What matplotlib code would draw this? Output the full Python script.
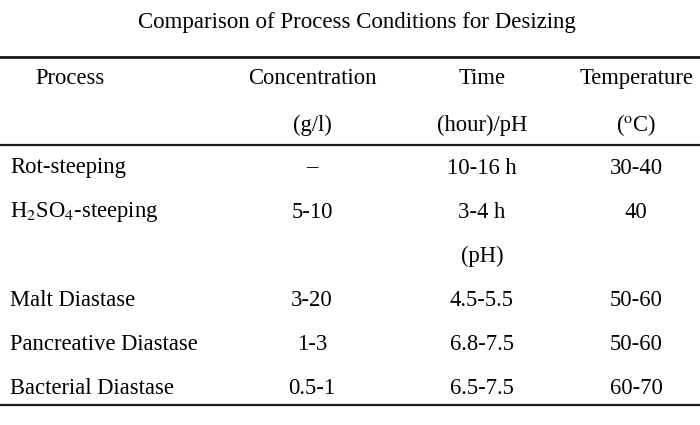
import matplotlib.pyplot as plt

plt.rcParams['font.family'] = ['Liberation Serif', 'DejaVu Serif']
plt.rcParams['mathtext.fontset'] = 'stix'

# dados da tabela
titulo = 'Comparison of Process Conditions for Desizing'
cabecalho1 = ['Process', 'Concentration', 'Time', 'Temperature']
cabecalho2 = ['', '(g/l)', '(hour)/pH', r'($^{\rm o}$C)']
processos = ['Rot-steeping', r'H$_2$SO$_4$-steeping', '', 'Malt Diastase',
             'Pancreative Diastase', 'Bacterial Diastase']
concentracao = ['\u2013', '5-10', '', '3-20', '1-3', '0.5-1']
tempo = ['10-16 h', '3-4 h', '(pH)', '4.5-5.5', '6.8-7.5', '6.5-7.5']
temperatura = ['30-40', '40', '', '50-60', '50-60', '60-70']

fig = plt.figure(figsize=(7, 4.25), dpi=100)
ax = fig.add_axes([0, 0, 1, 1])
ax.set_xlim(0, 700)
ax.set_ylim(425, 0)
ax.axis('off')

fs = 16.3
xcol = [10, 312, 482, 636]

ax.text(357, 22, titulo, ha='center', va='center', fontsize=16.5)

# linhas horizontais
ax.axhline(57, color='#1a1a1a', lw=2.0)
ax.axhline(145, color='#1a1a1a', lw=1.6)
ax.axhline(405, color='#1a1a1a', lw=1.6)

ax.text(35, 78, cabecalho1[0], ha='left', va='center', fontsize=fs)
for j in range(1, 4):
    ax.text(xcol[j], 78, cabecalho1[j], ha='center', va='center', fontsize=fs)
    ax.text(xcol[j], 125, cabecalho2[j], ha='center', va='center', fontsize=fs)

for i in range(len(processos)):
    y = 168 + i * 44.2
    ax.text(xcol[0], y, processos[i], ha='left', va='center', fontsize=fs)
    ax.text(xcol[1], y, concentracao[i], ha='center', va='center', fontsize=fs)
    ax.text(xcol[2], y, tempo[i], ha='center', va='center', fontsize=fs)
    ax.text(xcol[3], y, temperatura[i], ha='center', va='center', fontsize=fs)

fig.savefig('out.png', dpi=100)
